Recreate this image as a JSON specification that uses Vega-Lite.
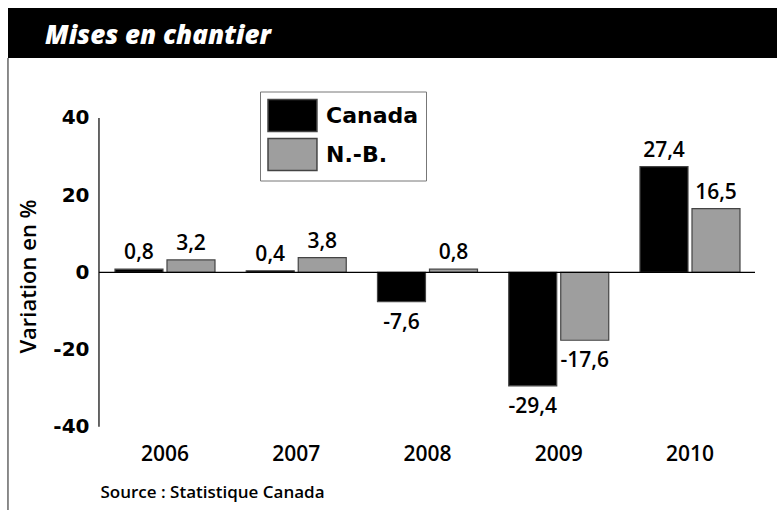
{
  "$schema": "https://vega.github.io/schema/vega-lite/v6.json",
  "width": 769,
  "height": 502,
  "autosize": {"type": "none"},
  "padding": {"left": 8, "top": 8, "right": 0, "bottom": 0},
  "background": "white",
  "config": {
    "locale": {"number": {"decimal": ",", "thousands": " ", "grouping": [3], "currency": ["", " $"], "minus": "-"}},
    "view": {"stroke": null, "fill": "white"},
    "font": "Open Sans"
  },
  "title": {
    "text": "Mises en chantier",
    "orient": "top",
    "anchor": "start",
    "frame": "group",
    "offset": -41,
    "dx": 37,
    "color": "white",
    "font": "Open Sans",
    "fontSize": 26,
    "fontWeight": 800,
    "fontStyle": "italic"
  },
  "data": {
    "values": [
      {"year": "2006", "series": "Canada", "value": 0.8},
      {"year": "2006", "series": "N.-B.", "value": 3.2},
      {"year": "2007", "series": "Canada", "value": 0.4},
      {"year": "2007", "series": "N.-B.", "value": 3.8},
      {"year": "2008", "series": "Canada", "value": -7.6},
      {"year": "2008", "series": "N.-B.", "value": 0.8},
      {"year": "2009", "series": "Canada", "value": -29.4},
      {"year": "2009", "series": "N.-B.", "value": -17.6},
      {"year": "2010", "series": "Canada", "value": 27.4},
      {"year": "2010", "series": "N.-B.", "value": 16.5}
    ]
  },
  "layer": [
    {
      "data": {"values": [{"bandeau": "titre"}]},
      "mark": {"type": "rect", "color": "black"},
      "encoding": {
        "y": {"datum": 55.52, "type": "quantitative"},
        "y2": {"datum": 68.47}
      }
    },
    {
      "mark": {"type": "bar", "stroke": "#444444", "strokeWidth": 1.2},
      "encoding": {
        "x": {
          "field": "year",
          "type": "nominal",
          "scale": {"type": "band", "paddingInner": 0.238, "paddingOuter": 0.5485, "align": 0.743},
          "axis": {
            "orient": "bottom",
            "offset": -67,
            "domain": false,
            "ticks": false,
            "grid": false,
            "labelPadding": 0,
            "labelAngle": 0,
            "labelAlign": "center",
            "bandPosition": 0.5,
            "labelFont": "Open Sans",
            "labelFontWeight": 600,
            "labelFontSize": 21,
            "labelColor": "black",
            "title": "Source : Statistique Canada",
            "titleAnchor": "start",
            "titleAlign": "left",
            "titleX": 92,
            "titleY": 54,
            "titleBaseline": "alphabetic",
            "titleFont": "Open Sans",
            "titleFontWeight": 600,
            "titleFontSize": 17,
            "titleColor": "black"
          }
        },
        "xOffset": {
          "field": "series",
          "type": "nominal",
          "scale": {"paddingInner": 0.077, "paddingOuter": 0}
        },
        "y": {
          "field": "value",
          "type": "quantitative",
          "scale": {"domain": [-61.58, 68.47], "nice": false, "zero": false},
          "axis": {
            "values": [-40, -20, 0, 20, 40],
            "format": "d",
            "offset": -91,
            "domain": false,
            "ticks": false,
            "grid": false,
            "labelPadding": 10,
            "labelFont": "DejaVu Sans",
            "labelFontWeight": "bold",
            "labelFontSize": 20,
            "labelColor": "black",
            "title": "Variation en %",
            "titleFont": "Open Sans",
            "titleFontWeight": 600,
            "titleFontSize": 22,
            "titleColor": "black",
            "titleX": -71,
            "titleY": 268,
            "titleAngle": -90,
            "titleAlign": "center",
            "titleBaseline": "middle"
          }
        },
        "color": {
          "field": "series",
          "type": "nominal",
          "scale": {"domain": ["Canada", "N.-B."], "range": ["#000000", "#9e9e9e"]},
          "legend": {
            "orient": "none",
            "legendX": 252,
            "legendY": 83.5,
            "title": null,
            "symbolType": "M-1,-1H2.06V1H-1Z",
            "symbolSize": 1024,
            "symbolStrokeColor": "#444444",
            "symbolStrokeWidth": 1.5,
            "symbolOpacity": 1,
            "labelFont": "DejaVu Sans",
            "labelFontWeight": "bold",
            "labelFontSize": 22,
            "labelColor": "black",
            "labelOffset": 25,
            "rowPadding": 1,
            "padding": 7,
            "strokeColor": "#777777",
            "fillColor": "white"
          }
        }
      }
    },
    {
      "data": {"values": [{"cadre": "gauche"}]},
      "mark": {"type": "rule", "color": "#666666", "strokeWidth": 1.5},
      "encoding": {
        "x": {"datum": "2006", "type": "nominal", "bandPosition": -1.07},
        "y": {"datum": -61.58, "type": "quantitative"},
        "y2": {"datum": 55.52}
      }
    },
    {
      "data": {"values": [{"axe": "y"}]},
      "mark": {"type": "rule", "color": "black", "strokeWidth": 1.2},
      "encoding": {
        "x": {"datum": "2006", "type": "nominal", "bandPosition": -0.16},
        "y": {"datum": -40, "type": "quantitative"},
        "y2": {"datum": 40}
      }
    },
    {
      "data": {"values": [{"axe": "zero"}]},
      "mark": {"type": "rule", "color": "black", "strokeWidth": 1.2},
      "encoding": {
        "x": {"datum": "2006", "type": "nominal", "bandPosition": -0.16},
        "x2": {"datum": "2010", "bandPosition": 1.15},
        "y": {"datum": 0, "type": "quantitative"}
      }
    },
    {
      "transform": [{"filter": "datum.value >= 0"}],
      "mark": {"type": "text", "baseline": "alphabetic", "dy": -10, "fontSize": 21, "fontWeight": 600, "font": "Open Sans", "color": "black"},
      "encoding": {
        "x": {"field": "year", "type": "nominal"},
        "xOffset": {"field": "series", "type": "nominal"},
        "y": {"field": "value", "type": "quantitative"},
        "text": {"field": "value", "type": "quantitative", "format": ".1f"}
      }
    },
    {
      "transform": [{"filter": "datum.value < 0"}],
      "mark": {"type": "text", "baseline": "top", "dy": 10, "fontSize": 21, "fontWeight": 600, "font": "Open Sans", "color": "black"},
      "encoding": {
        "x": {"field": "year", "type": "nominal"},
        "xOffset": {"field": "series", "type": "nominal"},
        "y": {"field": "value", "type": "quantitative"},
        "text": {"field": "value", "type": "quantitative", "format": ".1f"}
      }
    }
  ]
}
